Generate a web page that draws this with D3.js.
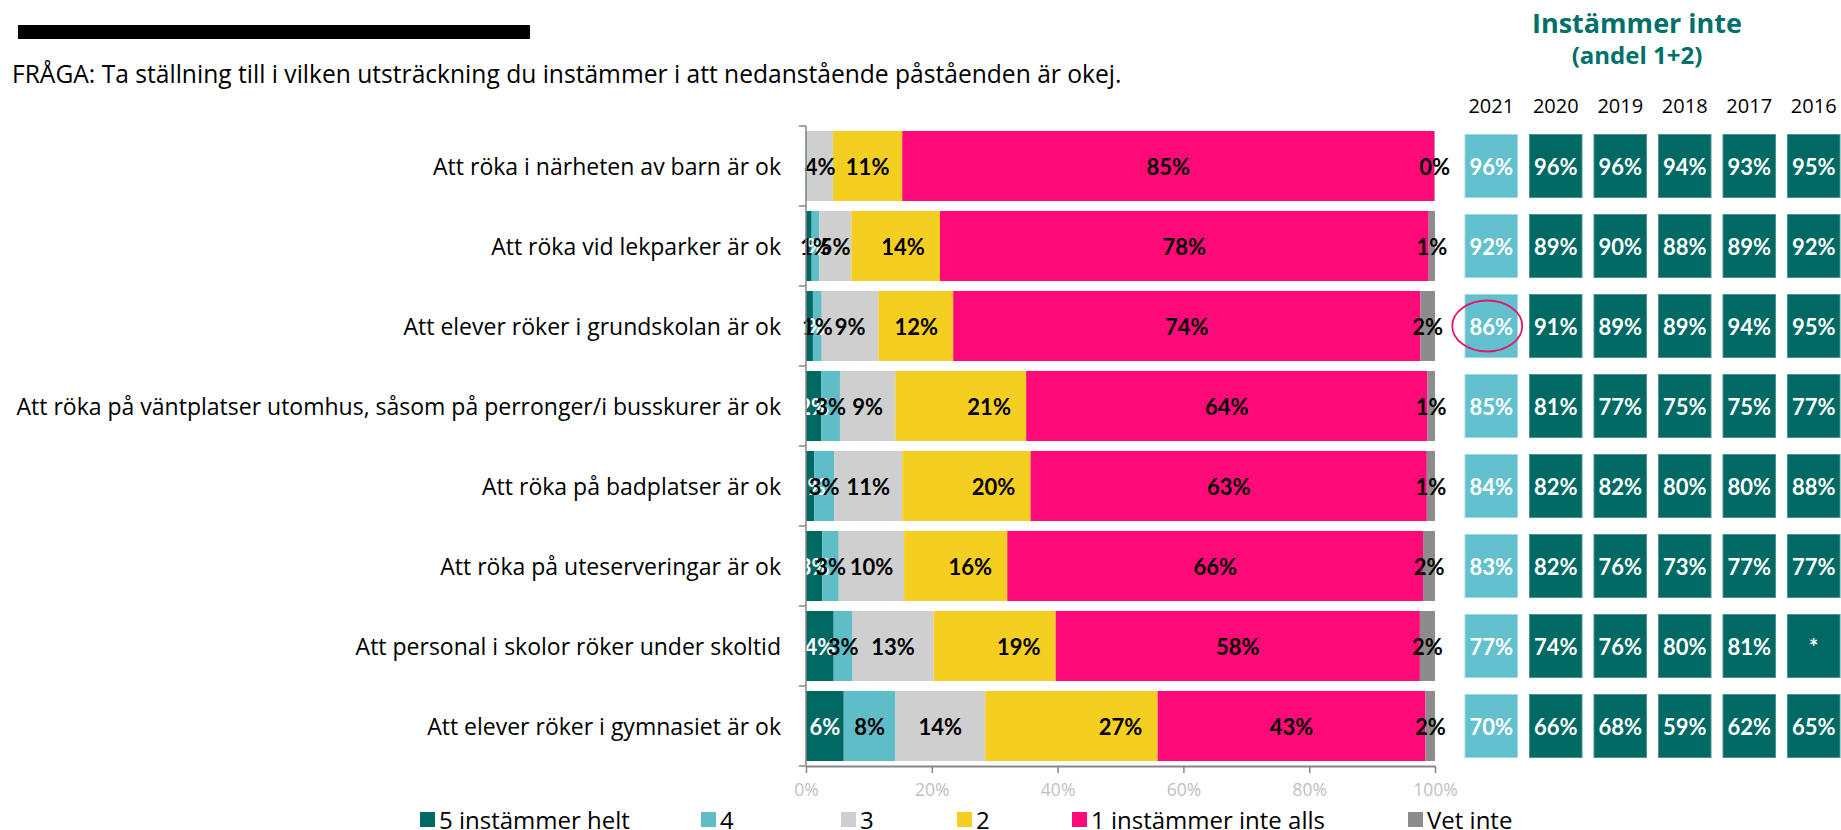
<!DOCTYPE html>
<html>
<head>
<meta charset="utf-8">
<script src="https://cdn.jsdelivr.net/npm/d3@7"></script>
<style>
  html, body { margin: 0; padding: 0; background: #fff; }
  svg { display: block; font-family: "Open Sans", Lato, sans-serif; }
</style>
</head>
<body>
<div id="chart"></div>
<script>
// ---- data ----
const categories = [
  "Att röka i närheten av barn är ok",
  "Att röka vid lekparker är ok",
  "Att elever röker i grundskolan är ok",
  "Att röka på väntplatser utomhus, såsom på perronger/i busskurer är ok",
  "Att röka på badplatser är ok",
  "Att röka på uteserveringar är ok",
  "Att personal i skolor röker under skoltid",
  "Att elever röker i gymnasiet är ok"
];

const seriesNames = ["5 instämmer helt", "4", "3", "2", "1 instämmer inte alls", "Vet inte"];
const seriesColors = ["#006963", "#5fbdc8", "#cfcfcf", "#f4cf22", "#ff0a78", "#8c8c8c"];

const s5 = [0.1, 0.9, 1.1, 2.4, 1.3, 2.6, 4.4, 6.0];
const s4 = [0.1, 1.2, 1.4, 3.0, 3.2, 2.6, 3.0, 8.2];
const s3 = [4.1, 5.1, 9.0, 8.8, 10.8, 10.4, 12.9, 14.3];
const s2 = [11.0, 14.1, 11.9, 20.8, 20.4, 16.4, 19.4, 27.4];
const s1 = [84.6, 77.7, 74.3, 63.8, 63.0, 66.1, 57.9, 42.6];
const sVet = [0.1, 1.0, 2.3, 1.2, 1.3, 1.9, 2.4, 1.5];

const years = ["2021", "2020", "2019", "2018", "2017", "2016"];
// "Instämmer inte (andel 1+2)" per statement, one array per year
const y2021 = ["96%", "92%", "86%", "85%", "84%", "83%", "77%", "70%"];
const y2020 = ["96%", "89%", "91%", "81%", "82%", "82%", "74%", "66%"];
const y2019 = ["96%", "90%", "89%", "77%", "82%", "76%", "76%", "68%"];
const y2018 = ["94%", "88%", "89%", "75%", "80%", "73%", "80%", "59%"];
const y2017 = ["93%", "89%", "94%", "75%", "80%", "77%", "81%", "62%"];
const y2016 = ["95%", "92%", "95%", "77%", "88%", "77%", "*", "65%"];

const xTicks = [0, 20, 40, 60, 80, 100];
const question = "FRÅGA: Ta ställning till i vilken utsträckning du instämmer i att nedanstående påståenden är okej.";

// ---- setup ----
const width = 1841, height = 830;
const svg = d3.select("#chart").append("svg")
  .attr("width", width)
  .attr("height", height);

const x = d3.scaleLinear().domain([0, 100]).range([806, 1435]);
const y = d3.scaleBand().domain(categories).range([126, 766])
  .paddingInner(0.125).paddingOuter(0.0625);

const color = d3.scaleOrdinal().domain(seriesNames).range(seriesColors);

// table for the stack
const table = categories.map((c, i) => ({
  cat: c,
  "5 instämmer helt": s5[i],
  "4": s4[i],
  "3": s3[i],
  "2": s2[i],
  "1 instämmer inte alls": s1[i],
  "Vet inte": sVet[i]
}));
const stacked = d3.stack().keys(seriesNames)(table);

// header bits
svg.append("rect")
  .attr("x", 18).attr("y", 25).attr("width", 512).attr("height", 14)
  .attr("fill", "#000");

svg.append("text")
  .attr("x", 12).attr("y", 73)
  .attr("dominant-baseline", "central")
  .attr("font-size", 24.6)
  .attr("fill", "#000")
  .text(question);

// ---- bars ----
const layer = svg.append("g").selectAll("g")
  .data(stacked)
  .join("g")
  .attr("fill", d => color(d.key));

layer.selectAll("rect")
  .data(d => d)
  .join("rect")
  .attr("x", d => x(d[0]))
  .attr("y", d => y(d.data.cat))
  .attr("width", d => x(d[1]) - x(d[0]))
  .attr("height", y.bandwidth());

// data labels
const labels = svg.append("g")
  .attr("font-family", "Lato, sans-serif")
  .attr("font-size", 22)
  .attr("font-weight", 700);

stacked.forEach((s, si) => {
  labels.selectAll(null)
    .data(s.filter(d => si > 1 || (d[1] - d[0]) >= 0.5))
    .join("text")
    .attr("x", d => {
      const mid = (x(d[0]) + x(d[1])) / 2;
      // the "2" labels sit toward the end of their segment
      if (s.key === "2") return Math.max(mid, x(d[1]) - 37);
      return mid;
    })
    .attr("y", d => y(d.data.cat) + y.bandwidth() / 2)
    .attr("text-anchor", "middle")
    .attr("dominant-baseline", "central")
    .attr("fill", si === 0 ? "#fff" : "#000")
    .text(d => Math.round(d[1] - d[0]) + "%");
});

// ---- axes ----
const axisColor = "#868686";

// vertical category axis with ticks at band edges
svg.append("line")
  .attr("x1", x(0)).attr("x2", x(0))
  .attr("y1", y.range()[0]).attr("y2", y.range()[1])
  .attr("stroke", axisColor).attr("stroke-width", 1.5);

const edges = categories.map(c => y(c) - y.step() * y.paddingInner() / 2);
edges.push(y.range()[1]);
svg.append("g").selectAll("line")
  .data(edges)
  .join("line")
  .attr("x1", x(0) - 7).attr("x2", x(0))
  .attr("y1", d => d).attr("y2", d => d)
  .attr("stroke", axisColor).attr("stroke-width", 1.5);

svg.append("g").selectAll("text")
  .data(categories)
  .join("text")
  .attr("x", 781)
  .attr("y", d => y(d) + y.bandwidth() / 2)
  .attr("text-anchor", "end")
  .attr("dominant-baseline", "central")
  .attr("font-size", 23)
  .attr("fill", "#000")
  .text(d => d);

const xAxis = svg.append("g")
  .attr("transform", `translate(0,${y.range()[1]})`)
  .call(d3.axisBottom(x).tickValues(xTicks).tickFormat(d => d + "%").tickSize(7).tickPadding(11).tickSizeOuter(0));
xAxis.select(".domain").attr("stroke", axisColor).attr("stroke-width", 2);
xAxis.selectAll(".tick line").attr("stroke", axisColor).attr("stroke-width", 1.5);
xAxis.selectAll(".tick text")
  .attr("fill", "#bfbfbf")
  .attr("font-size", 17.5)
  .attr("font-family", "'Open Sans', sans-serif");

// ---- trend boxes on the right ----
const col = d3.scaleBand().domain(years).range([1465, 1840]).paddingInner(0.186);
const yearValues = [y2021, y2020, y2019, y2018, y2017, y2016];
const boxH = 63;

svg.append("text")
  .attr("x", 1637).attr("y", 22)
  .attr("text-anchor", "middle").attr("dominant-baseline", "central")
  .attr("font-size", 27).attr("font-weight", 700).attr("fill", "#00706a")
  .text("Instämmer inte");
svg.append("text")
  .attr("x", 1637).attr("y", 54)
  .attr("text-anchor", "middle").attr("dominant-baseline", "central")
  .attr("font-size", 24).attr("font-weight", 700).attr("fill", "#00706a")
  .text("(andel 1+2)");

svg.append("g").selectAll("text")
  .data(years)
  .join("text")
  .attr("x", d => col(d) + col.bandwidth() / 2)
  .attr("y", 105)
  .attr("text-anchor", "middle").attr("dominant-baseline", "central")
  .attr("font-size", 20).attr("fill", "#000")
  .text(d => d);

years.forEach((yr, yi) => {
  const g = svg.append("g");
  g.selectAll("rect")
    .data(categories)
    .join("rect")
    .attr("x", col(yr))
    .attr("y", d => y(d) + y.bandwidth() / 2 - boxH / 2)
    .attr("width", col.bandwidth())
    .attr("height", boxH)
    .attr("fill", yi === 0 ? "#62c1cc" : "#006963")
    .attr("stroke", yi === 0 ? "#9fdbe2" : "#4c958f")
    .attr("stroke-width", 1);
  g.selectAll("text")
    .data(categories)
    .join("text")
    .attr("x", col(yr) + col.bandwidth() / 2)
    .attr("y", d => y(d) + y.bandwidth() / 2)
    .attr("text-anchor", "middle").attr("dominant-baseline", "central")
    .attr("font-family", "Lato, sans-serif")
    .attr("font-size", 22).attr("font-weight", 700).attr("fill", "#fff")
    .text((d, i) => yearValues[yi][i]);
});

// highlight ring on 2021 / grundskolan
svg.append("ellipse")
  .attr("cx", col("2021") + col.bandwidth() / 2 - 4)
  .attr("cy", y(categories[2]) + y.bandwidth() / 2)
  .attr("rx", 35).attr("ry", 25.5)
  .attr("fill", "none")
  .attr("stroke", "#e8146c")
  .attr("stroke-width", 1.8);

// ---- legend ----
const legendX = [420, 701, 841, 957, 1072, 1408];
const legend = svg.append("g").selectAll("g")
  .data(seriesNames)
  .join("g")
  .attr("transform", (d, i) => `translate(${legendX[i]},812)`);
legend.append("rect")
  .attr("width", 15).attr("height", 15)
  .attr("fill", d => color(d));
legend.append("text")
  .attr("x", 19).attr("y", 7.5)
  .attr("dominant-baseline", "central")
  .attr("font-size", 24).attr("fill", "#000")
  .text(d => d);
</script>
</body>
</html>
